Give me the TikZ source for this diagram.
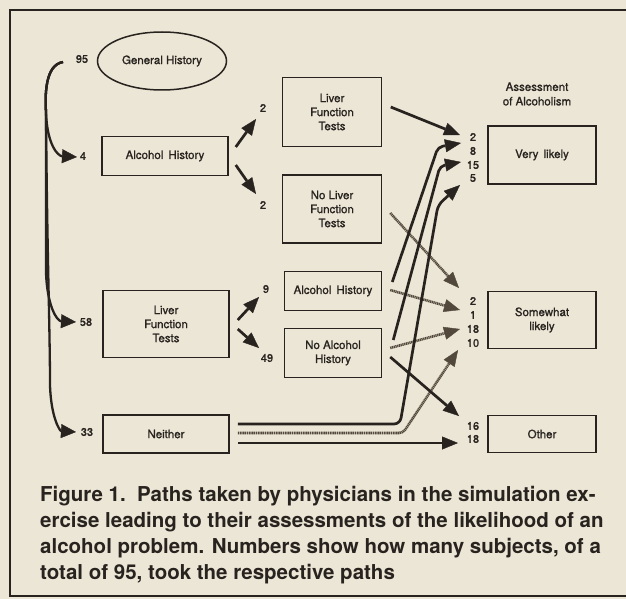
\documentclass[tikz,border=0pt]{standalone}
\usepackage{fontspec}
\setmainfont{TeX Gyre Heros}
\newfontfamily\diagfont[FakeBold=1.2]{TeX Gyre Heros}
\usetikzlibrary{arrows.meta,shapes.geometric}
\definecolor{paper}{RGB}{236,230,214}
\definecolor{ink}{RGB}{40,35,31}
\definecolor{hatch}{RGB}{82,73,60}
\begin{document}
\begin{tikzpicture}[x=1pt,y=-1pt,
  box/.style={draw=ink,line width=1.5pt,inner sep=0pt,align=center,text=ink,
    font=\diagfont\fontsize{11.5}{14}\selectfont},
  lab/.style={inner sep=0pt,text=ink,font=\diagfont\fontsize{11}{13}\selectfont},
  caption/.style={inner sep=0pt,anchor=base west,text=ink,font=\fontsize{20.5}{26}\selectfont\bfseries},
  flow/.style={draw=ink,line width=2.7pt,-{Triangle[length=16pt,width=13pt,line width=0.4pt]}},
  hflow/.style={draw=hatch,line width=2.6pt,dash pattern=on 1.2pt off 0.6pt,
    -{Triangle[length=16pt,width=13pt,line width=0.4pt,fill=hatch]}},
  curve/.style={draw=ink,line width=2.3pt,-{Triangle[length=15pt,width=14pt,line width=0.4pt]}}
]
\useasboundingbox (0,0) rectangle (626,599);
\fill[paper] (0,0) rectangle (626,599);
\draw[ink,line width=2.2pt] (626,10) -- (10,10) -- (10,596) -- (626,596);

% left column
\node[lab] (n95) at (82,59) {95};
\node[ellipse,draw=ink,line width=1.5pt,minimum width=129pt,minimum height=58pt,inner sep=0pt,
  text=ink,font=\diagfont\fontsize{11.5}{14}\selectfont] (gh) at (162,61) {General History};
\node[box,minimum width=126pt,minimum height=39pt] (ah1) at (165,156) {Alcohol\, History};
\node[lab] (n4) at (83,156) {4};
\node[box,minimum width=126pt,minimum height=67pt] (lft2) at (166,324) {Liver\\Function\\Tests};
\node[lab] (n58) at (86,322) {58};
\node[box,minimum width=126pt,minimum height=38pt] (nei) at (166,434) {Neither};
\node[lab] (n33) at (87,432) {33};

% middle column
\node[lab] (n2a) at (263,108) {2};
\node[lab] (n2b) at (263,205) {2};
\node[box,minimum width=99pt,minimum height=69pt] (lft1) at (332,112) {Liver\\Function\\Tests};
\node[box,minimum width=99pt,minimum height=68pt] (nlft) at (332,209) {No Liver\\Function\\Tests};
\node[lab] (n9) at (266,289) {9};
\node[lab] (n49) at (267,358) {49};
\node[box,minimum width=97pt,minimum height=39pt] (ah2) at (333,291) {Alcohol\, History};
\node[box,minimum width=97pt,minimum height=49pt] (nah) at (333,353) {No Alcohol\\History};

% right column
\node[lab,align=center,font=\diagfont\fontsize{11.5}{14.5}\selectfont] (ass) at (537,94) {Assessment\\of Alcoholism};
\node[box,minimum width=108pt,minimum height=58pt] (vl) at (542,155) {Very\, likely};
\node[box,minimum width=108pt,minimum height=57pt] (sl) at (542,320) {Somewhat\\likely};
\node[box,minimum width=108pt,minimum height=37pt] (oth) at (542,434) {Other};
\node[lab] (v2) at (473,137) {2};
\node[lab] (v8) at (473,151) {8};
\node[lab] (v15) at (473,165) {15};
\node[lab] (v5) at (473,178) {5};
\node[lab] (s2) at (473,301) {2};
\node[lab] (s1) at (473,315) {1};
\node[lab] (s18) at (473,329) {18};
\node[lab] (s10) at (473,343) {10};
\node[lab] (o16) at (473,426) {16};
\node[lab] (o18) at (473,439) {18};

% coordinates
\coordinate (c95) at (63,62);
\coordinate (t4) at (77,157);
\coordinate (t58) at (76,322);
\coordinate (t33) at (76,432);
\coordinate (ta) at (256,119);
\coordinate (tb) at (256,194);
\coordinate (tc) at (259,297);
\coordinate (td) at (259,348);
\coordinate (tv2) at (460,135);
\coordinate (tv8) at (461,143);
\coordinate (tv15) at (461,162);
\coordinate (tv5) at (460,185);
\coordinate (ts2) at (459,288);
\coordinate (ts1) at (460,310);
\coordinate (ts18) at (460,329);
\coordinate (ts10) at (458,350);
\coordinate (to16) at (459,416);
\coordinate (to18) at (458,443);

% left curved arrows
\draw[curve] (c95) .. controls (45,65) and (45,95) .. (46,112)
  .. controls (47,145) and (58,156) .. (t4);
\draw[curve] (c95) .. controls (45,65) and (45,95) .. (46,112) -- (46,272)
  .. controls (47,306) and (57,321) .. (t58);
\draw[curve] (c95) .. controls (45,65) and (45,95) .. (46,112)
  .. controls (47,250) and (50,330) .. (50,385)
  .. controls (51,418) and (60,431) .. (t33);

% first-level arrows
\draw[flow] ([shift={(7,-9)}]ah1.east) -- (ta);
\draw[flow] ([shift={(7,9)}]ah1.east) -- (tb);
\draw[flow] ([shift={(8,-4)}]lft2.east) -- (tc);
\draw[flow] ([shift={(8,5)}]lft2.east) -- (td);

% to assessments: hatched (somewhat likely)
\draw[hflow] ([shift={(8,4)}]nlft.east) -- (ts2);
\draw[hflow] ([shift={(8,-1)}]ah2.east) -- (ts1);
\draw[hflow] ([shift={(8,-5)}]nah.east) -- (ts18);
\draw[hflow,rounded corners=4pt] ([shift={(8,-1)}]nei.east) -- (403,433) -- (ts10);

% to assessments: solid
\draw[flow] ([shift={(8.5,-5)}]lft1.east) -- (tv2);
\draw[flow,rounded corners=5pt] ([shift={(10,-9)}]ah2.east) -- (438,147) -- (tv8);
\draw[flow,rounded corners=5pt] ([shift={(11,-13)}]nah.east) -- (440,166) -- (tv15);
\draw[flow,rounded corners=6pt] ([shift={(8,-10)}]nei.east) -- (400,424) -- (438,205) -- (tv5);
\draw[flow] ([shift={(8,4)}]nah.east) -- (to16);
\draw[flow] ([shift={(8,9)}]nei.east) -- (to18);

% caption
\node[caption] (cap1) at (40,501) {Figure 1.\ \ Paths taken by physicians in the simulation ex-};
\node[caption] (cap2) at (40,527) {ercise leading to their assessments of the likelihood of an};
\node[caption] (cap3) at (40,553) {alcohol problem. Numbers show how many subjects, of a};
\node[caption] (cap4) at (40,579) {total of 95, took the respective paths};
\end{tikzpicture}
\end{document}
